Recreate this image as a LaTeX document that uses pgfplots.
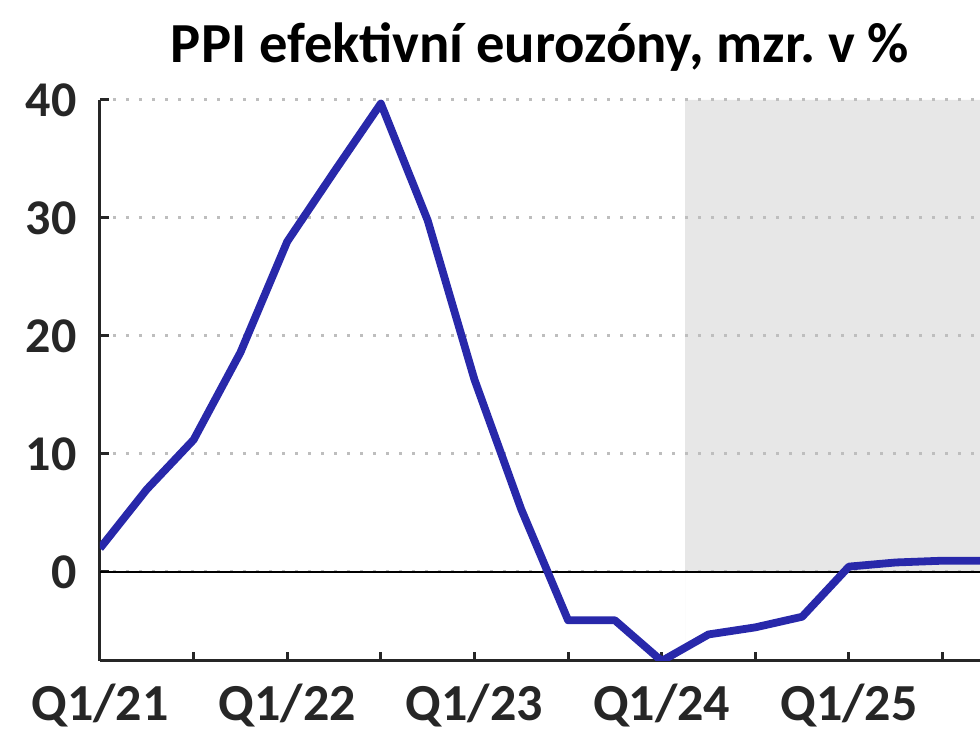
\documentclass[border=0pt]{standalone}
\usepackage{fontspec}
\setmainfont{Carlito}
\frenchspacing
\usepackage{pgfplots}
\pgfplotsset{compat=1.18}
\definecolor{linecol}{RGB}{40,40,170}
\definecolor{axcol}{RGB}{38,38,38}
\definecolor{shade}{RGB}{231,231,231}
\definecolor{gridcol}{RGB}{190,190,190}
\begin{document}
\begin{tikzpicture}
\begin{axis}[
  set layers,
  scale only axis,
  width=440pt, height=280.5pt,
  xmin=0, xmax=18.8,
  ymin=-7.55, ymax=40,
  axis x line=bottom, axis y line=left,
  axis line style={-, line width=1.5pt, color=axcol},
  xtick={0,2,...,18},
  xticklabels={Q1/21,,Q1/22,,Q1/23,,Q1/24,,Q1/25,},
  ytick={0,10,20,30,40},
  tick style={line width=1.5pt, color=axcol},
  tick align=inside,
  major tick length=4.5pt,
  /pgf/number format/assume math mode=true,
  yticklabel style={font=\fontsize{25}{28}\selectfont\bfseries, text=axcol, anchor=east, inner sep=0pt, xshift=-11.5pt},
  xticklabel style={font=\fontsize{26}{28}\selectfont\bfseries, text=axcol, anchor=base, inner sep=0pt, yshift=-30pt},
  ymajorgrids,
  major grid style={gridcol, line width=1.5pt, dash pattern=on 1.5pt off 5pt},
  title={PPI efektivní eurozóny, mzr.\ v \%},
  title style={font=\fontsize{28.3}{32}\selectfont\bfseries, at={(0.5,1)}, anchor=base, yshift=12.5pt, inner sep=0pt},
]
\addplot[on layer=axis background, fill=shade, draw=none] coordinates {(12.5,-7.55) (12.5,40) (19.5,40) (19.5,-7.55)} \closedcycle;
\addplot[black, line width=1pt] coordinates {(0,0) (19.5,0)};
\addplot[linecol, line width=3.9pt, line join=round] coordinates {
(0,2.0) (1,7.0) (2,11.2) (3,18.6) (4,28.0) (5,33.9) (6,39.7) (7,29.8) (8,16.3) (9,5.3)
(10,-4.1) (11,-4.1) (12,-7.55) (13,-5.3) (14,-4.7) (15,-3.8) (16,0.45) (17,0.8) (18,0.95) (19,0.95)
};
\end{axis}
\pgfresetboundingbox
\path (current axis.south west) ++(-50pt,-35pt) coordinate (bl);
\path (current axis.north east) ++(0pt,50pt) coordinate (tr);
\path (bl) rectangle (tr);
\end{tikzpicture}
\end{document}
